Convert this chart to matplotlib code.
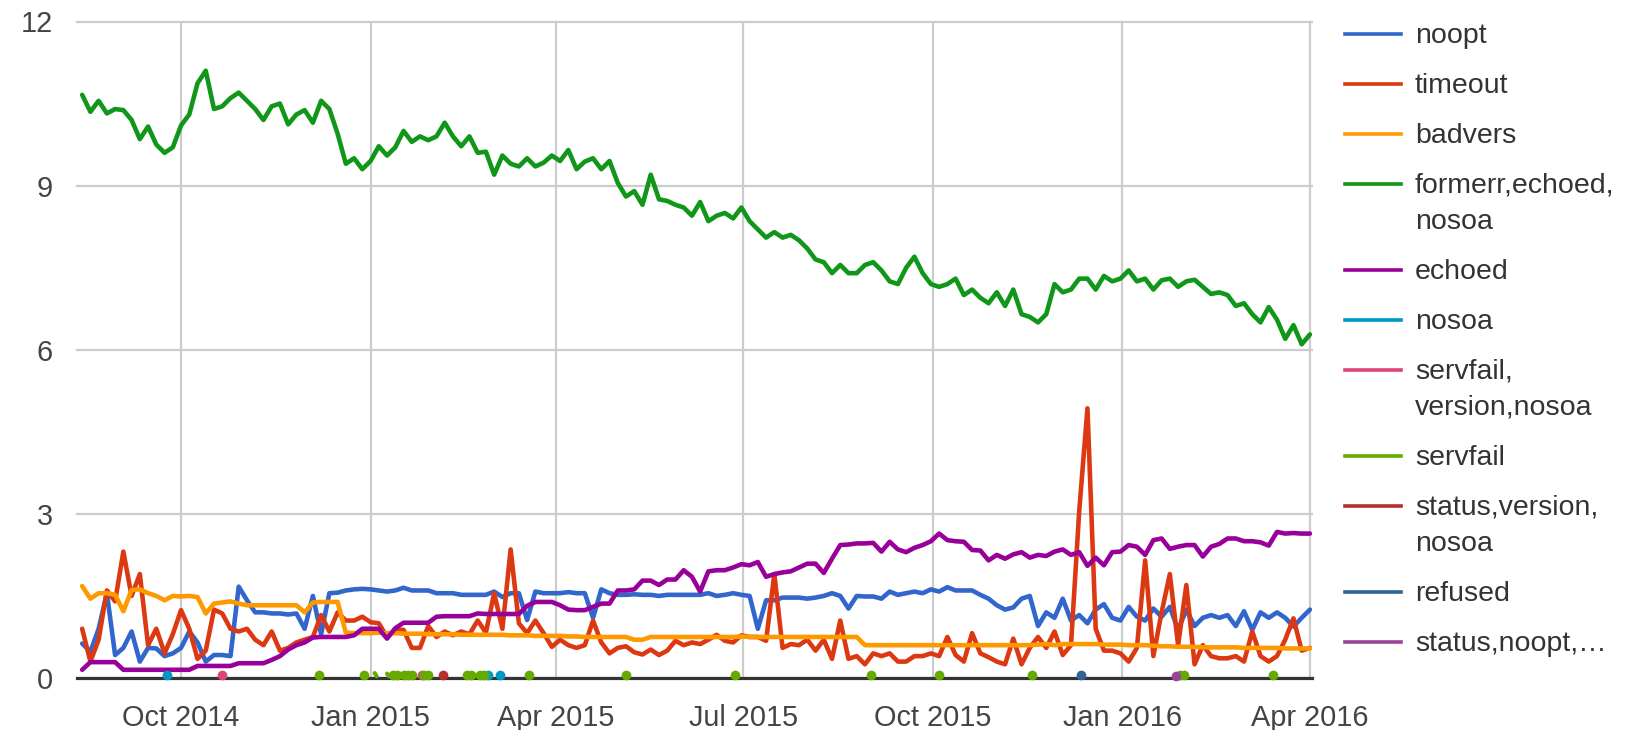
import matplotlib
matplotlib.use("Agg")
import matplotlib.pyplot as plt
import pandas as pd
from matplotlib.lines import Line2D

plt.rcParams['font.family'] = ['Liberation Sans', 'DejaVu Sans']

# ---------------- data ----------------
start_date = '2014-08-14'          # first sample shown
n_points = 150                      # samples every 4 days
dates = pd.date_range(start_date, periods=n_points, freq='4D')

noopt = [
    0.63, 0.48, 0.90, 1.55, 0.42, 0.55, 0.85, 0.30, 0.55, 0.54,
    0.40, 0.45, 0.55, 0.85, 0.65, 0.30, 0.42, 0.42, 0.40, 1.67,
    1.42, 1.20, 1.20, 1.18, 1.18, 1.16, 1.18, 0.90, 1.50, 0.80,
    1.55, 1.56, 1.60, 1.62, 1.63, 1.62, 1.60, 1.58, 1.60, 1.65,
    1.60, 1.60, 1.60, 1.55, 1.55, 1.55, 1.52, 1.52, 1.52, 1.52,
    1.58, 1.48, 1.55, 1.55, 1.06, 1.58, 1.55, 1.55, 1.55, 1.57,
    1.55, 1.55, 1.10, 1.62, 1.55, 1.52, 1.52, 1.53, 1.52, 1.52,
    1.50, 1.52, 1.52, 1.52, 1.52, 1.52, 1.55, 1.50, 1.52, 1.55,
    1.52, 1.50, 0.90, 1.42, 1.42, 1.47, 1.47, 1.47, 1.45, 1.47,
    1.50, 1.55, 1.50, 1.27, 1.50, 1.49, 1.49, 1.45, 1.58, 1.52,
    1.55, 1.58, 1.55, 1.62, 1.58, 1.66, 1.60, 1.60, 1.60, 1.52,
    1.45, 1.33, 1.25, 1.29, 1.45, 1.50, 0.95, 1.20, 1.10, 1.45,
    1.05, 1.15, 1.00, 1.25, 1.35, 1.10, 1.05, 1.30, 1.12, 1.05,
    1.27, 1.12, 1.30, 0.88, 1.25, 0.95, 1.10, 1.15, 1.10, 1.15,
    0.95, 1.22, 0.88, 1.20, 1.10, 1.20, 1.10, 0.94, 1.10, 1.25,
]

timeout = [
    0.90, 0.30, 0.70, 1.60, 1.40, 2.31, 1.50, 1.90, 0.60, 0.90,
    0.45, 0.80, 1.24, 0.90, 0.35, 0.50, 1.25, 1.18, 0.90, 0.85,
    0.90, 0.70, 0.60, 0.85, 0.50, 0.55, 0.65, 0.70, 0.75, 1.15,
    0.85, 1.20, 1.05, 1.05, 1.12, 1.02, 1.00, 0.75, 0.88, 0.88,
    0.55, 0.55, 0.95, 0.75, 0.85, 0.78, 0.85, 0.80, 1.05, 0.83,
    1.55, 0.90, 2.35, 1.00, 0.82, 1.05, 0.82, 0.57, 0.70, 0.60,
    0.55, 0.60, 1.05, 0.65, 0.45, 0.55, 0.58, 0.47, 0.43, 0.52,
    0.42, 0.50, 0.68, 0.60, 0.65, 0.62, 0.70, 0.79, 0.68, 0.65,
    0.78, 0.75, 0.75, 0.68, 1.90, 0.55, 0.62, 0.60, 0.70, 0.50,
    0.70, 0.35, 1.05, 0.35, 0.40, 0.25, 0.45, 0.40, 0.45, 0.30,
    0.30, 0.40, 0.40, 0.45, 0.40, 0.75, 0.42, 0.30, 0.82, 0.45,
    0.38, 0.30, 0.25, 0.72, 0.25, 0.55, 0.75, 0.55, 0.85, 0.42,
    0.60, 3.05, 4.93, 0.90, 0.50, 0.50, 0.45, 0.30, 0.55, 2.15,
    0.40, 1.20, 1.90, 0.60, 1.70, 0.25, 0.60, 0.40, 0.36, 0.36,
    0.40, 0.30, 0.85, 0.40, 0.30, 0.40, 0.70, 1.09, 0.50, 0.55,
]

badvers = [
    1.68, 1.45, 1.55, 1.55, 1.52, 1.22, 1.61, 1.62, 1.55, 1.50,
    1.42, 1.50, 1.49, 1.50, 1.48, 1.18, 1.36, 1.38, 1.40, 1.36,
    1.33, 1.33, 1.33, 1.33, 1.33, 1.33, 1.33, 1.20, 1.38, 1.39,
    1.39, 1.39, 0.83, 0.82, 0.82, 0.82, 0.83, 0.82, 0.82, 0.81,
    0.81, 0.81, 0.80, 0.80, 0.80, 0.80, 0.79, 0.79, 0.79, 0.79,
    0.79, 0.79, 0.78, 0.78, 0.78, 0.77, 0.77, 0.77, 0.77, 0.76,
    0.76, 0.75, 0.75, 0.75, 0.75, 0.75, 0.75, 0.70, 0.70, 0.75,
    0.75, 0.75, 0.75, 0.75, 0.75, 0.75, 0.75, 0.75, 0.75, 0.75,
    0.76, 0.75, 0.75, 0.75, 0.75, 0.75, 0.75, 0.75, 0.75, 0.75,
    0.75, 0.75, 0.75, 0.75, 0.75, 0.60, 0.60, 0.60, 0.60, 0.60,
    0.60, 0.60, 0.60, 0.60, 0.60, 0.60, 0.60, 0.60, 0.60, 0.60,
    0.60, 0.60, 0.60, 0.60, 0.60, 0.60, 0.61, 0.62, 0.60, 0.62,
    0.62, 0.62, 0.62, 0.62, 0.61, 0.61, 0.61, 0.60, 0.60, 0.60,
    0.59, 0.58, 0.58, 0.57, 0.57, 0.57, 0.56, 0.56, 0.56, 0.56,
    0.56, 0.55, 0.55, 0.55, 0.55, 0.55, 0.54, 0.54, 0.54, 0.54,
]

formerr_echoed_nosoa = [
    10.66, 10.35, 10.55, 10.32, 10.40, 10.38, 10.20, 9.85, 10.08, 9.75,
    9.60, 9.70, 10.10, 10.30, 10.87, 11.10, 10.40, 10.45, 10.60, 10.70,
    10.55, 10.40, 10.20, 10.45, 10.50, 10.12, 10.30, 10.38, 10.15, 10.55,
    10.40, 9.95, 9.40, 9.50, 9.30, 9.45, 9.72, 9.55, 9.70, 10.00,
    9.80, 9.90, 9.83, 9.90, 10.15, 9.90, 9.72, 9.90, 9.60, 9.62,
    9.20, 9.55, 9.40, 9.35, 9.50, 9.35, 9.42, 9.55, 9.45, 9.65,
    9.30, 9.44, 9.50, 9.30, 9.45, 9.05, 8.80, 8.90, 8.65, 9.20,
    8.75, 8.72, 8.65, 8.60, 8.45, 8.70, 8.35, 8.45, 8.50, 8.40,
    8.60, 8.35, 8.20, 8.05, 8.15, 8.05, 8.10, 8.00, 7.85, 7.65,
    7.60, 7.40, 7.55, 7.40, 7.40, 7.55, 7.60, 7.45, 7.25, 7.20,
    7.50, 7.70, 7.40, 7.20, 7.15, 7.20, 7.30, 7.00, 7.10, 6.95,
    6.85, 7.05, 6.80, 7.10, 6.65, 6.60, 6.50, 6.65, 7.20, 7.05,
    7.10, 7.30, 7.30, 7.10, 7.35, 7.25, 7.30, 7.45, 7.25, 7.30,
    7.10, 7.27, 7.30, 7.15, 7.25, 7.28, 7.15, 7.02, 7.05, 7.00,
    6.80, 6.85, 6.65, 6.50, 6.78, 6.55, 6.20, 6.45, 6.10, 6.28,
]

echoed = [
    0.15, 0.29, 0.29, 0.29, 0.29, 0.15, 0.15, 0.15, 0.15, 0.15,
    0.15, 0.15, 0.15, 0.15, 0.22, 0.22, 0.22, 0.22, 0.22, 0.27,
    0.27, 0.27, 0.27, 0.33, 0.40, 0.52, 0.60, 0.65, 0.74, 0.75,
    0.75, 0.75, 0.75, 0.78, 0.90, 0.90, 0.90, 0.72, 0.91, 1.01,
    1.01, 1.01, 1.01, 1.12, 1.13, 1.13, 1.13, 1.13, 1.18, 1.17,
    1.17, 1.17, 1.17, 1.17, 1.32, 1.39, 1.39, 1.39, 1.33, 1.25,
    1.24, 1.24, 1.30, 1.36, 1.36, 1.60, 1.60, 1.62, 1.78, 1.78,
    1.70, 1.80, 1.80, 1.97, 1.85, 1.58, 1.95, 1.97, 1.97, 2.02,
    2.08, 2.06, 2.12, 1.85, 1.90, 1.93, 1.95, 2.02, 2.09, 2.09,
    1.92, 2.18, 2.43, 2.44, 2.46, 2.46, 2.47, 2.31, 2.49, 2.35,
    2.30, 2.38, 2.43, 2.50, 2.64, 2.52, 2.50, 2.49, 2.34, 2.33,
    2.15, 2.25, 2.18, 2.26, 2.30, 2.20, 2.25, 2.23, 2.31, 2.35,
    2.25, 2.30, 2.05, 2.20, 2.06, 2.30, 2.31, 2.43, 2.40, 2.25,
    2.52, 2.55, 2.36, 2.40, 2.43, 2.43, 2.22, 2.40, 2.45, 2.55,
    2.55, 2.50, 2.50, 2.48, 2.42, 2.67, 2.64, 2.65, 2.64, 2.64,
]

# sparse series (isolated days)
nosoa_dates = ['2014-09-24', '2015-02-27', '2015-03-05']
nosoa_vals = [0.06, 0.06, 0.06]
servfail_version_nosoa_dates = ['2014-10-21', '2015-01-26']
servfail_version_nosoa_vals = [0.06, 0.06]
servfail_dates = ['2014-12-07', '2014-12-29', '2015-01-03', '2015-01-04',
                  '2015-01-09', '2015-01-10', '2015-01-12', '2015-01-14',
                  '2015-01-17', '2015-01-19', '2015-01-21', '2015-01-27',
                  '2015-01-29', '2015-02-17', '2015-02-19', '2015-02-23',
                  '2015-02-25', '2015-03-19', '2015-05-05', '2015-06-27',
                  '2015-09-01', '2015-10-04', '2015-11-18', '2016-01-29',
                  '2016-01-31', '2016-03-14']
servfail_vals = [0.06, 0.06, 0.09, 0.03, 0.08, 0.03, 0.06, 0.06,
                 0.06, 0.06, 0.06, 0.06, 0.06, 0.06, 0.06, 0.06,
                 0.06, 0.06, 0.06, 0.06, 0.06, 0.06, 0.06, 0.06,
                 0.06, 0.06]
status_version_nosoa_dates = ['2015-02-05']
status_version_nosoa_vals = [0.06]
refused_dates = ['2015-12-12']
refused_vals = [0.06]
status_noopt_dates = ['2016-01-27']
status_noopt_vals = [0.04]

legend_labels = ['noopt', 'timeout', 'badvers', 'formerr,echoed,\nnosoa', 'echoed',
                 'nosoa', 'servfail,\nversion,nosoa', 'servfail',
                 'status,version,\nnosoa', 'refused', 'status,noopt,\u2026']
colors = ['#3366cc', '#dc3912', '#ff9900', '#109618', '#990099', '#0099c6',
          '#dd4477', '#66aa00', '#b82e2e', '#316395', '#994499']

x_tick_dates = ['2014-10-01', '2015-01-01', '2015-04-01', '2015-07-01',
                '2015-10-01', '2016-01-01', '2016-04-01']
x_tick_labels = ['Oct 2014', 'Jan 2015', 'Apr 2015', 'Jul 2015',
                 'Oct 2015', 'Jan 2016', 'Apr 2016']
y_ticks = [0, 3, 6, 9, 12]

# ---------------- figure ----------------
W, H = 1635, 730
fig = plt.figure(figsize=(W / 100, H / 100), dpi=100)
ax = fig.add_axes([77 / W, 1 - 678 / H, (1312 - 77) / W, (678 - 21.5) / H])

dense = [noopt, timeout, badvers, formerr_echoed_nosoa, echoed]
for i, vals in enumerate(dense):
    ax.plot(dates, vals, color=colors[i], lw=3.3, zorder=3 + i,
            solid_joinstyle='round', solid_capstyle='round')

sparse = [(nosoa_dates, nosoa_vals), (servfail_version_nosoa_dates, servfail_version_nosoa_vals),
          (servfail_dates, servfail_vals), (status_version_nosoa_dates, status_version_nosoa_vals),
          (refused_dates, refused_vals), (status_noopt_dates, status_noopt_vals)]
for j, (ds, vs) in enumerate(sparse):
    c = colors[5 + j]
    ts = pd.to_datetime(ds)
    runs = []
    cur = [0]
    for m in range(1, len(ts)):
        if (ts[m] - ts[m - 1]).days == 1:
            cur.append(m)
        else:
            runs.append(cur)
            cur = [m]
    runs.append(cur)
    for r in runs:
        if len(r) == 1:
            ax.plot([ts[r[0]]], [vs[r[0]]], 'o', color=c, ms=7, mew=0,
                    zorder=10 + j, clip_on=False)
        else:
            ax.plot([ts[m] for m in r], [vs[m] for m in r], color=c, lw=3.0,
                    zorder=10 + j, solid_capstyle='round', clip_on=False)

ax.set_xlim(pd.Timestamp('2014-08-11 12:00'), pd.Timestamp('2016-04-02'))
ax.set_ylim(0, 12)
ax.set_xticks(pd.to_datetime(x_tick_dates))
ax.set_xticklabels(x_tick_labels)
ax.set_yticks(y_ticks)
ax.set_yticklabels([str(v) for v in y_ticks])
ax.tick_params(axis='both', length=0, labelsize=20.8, labelcolor='#444444')
ax.tick_params(axis='x', pad=18.5)
ax.tick_params(axis='y', pad=17.5)
ax.grid(True, color='#cccccc', lw=1.6, zorder=0)
for gl in ax.get_xgridlines() + ax.get_ygridlines():
    gl.set_clip_on(False)
ax.set_axisbelow(True)
for s in ax.spines.values():
    s.set_visible(False)
ax.axhline(0, color='#333333', lw=2.3, zorder=2.5, clip_on=False)

# ---------------- legend ----------------
leg_y = [34, 84, 134, 184, 270, 320, 370, 456, 506, 592, 642]
for lab, c, y in zip(legend_labels, colors, leg_y):
    fy = 1 - y / H
    fig.add_artist(Line2D([1345 / W, 1401 / W], [fy, fy], color=c, lw=2.6,
                          transform=fig.transFigure))
    lines = lab.split('\n')
    for li, t in enumerate(lines):
        fig.text(1415 / W, 1 - (y + 2 + 36 * li) / H, t, fontsize=20.5,
                 color='#333333', va='center', ha='left')

fig.savefig('out.png', dpi=100)
